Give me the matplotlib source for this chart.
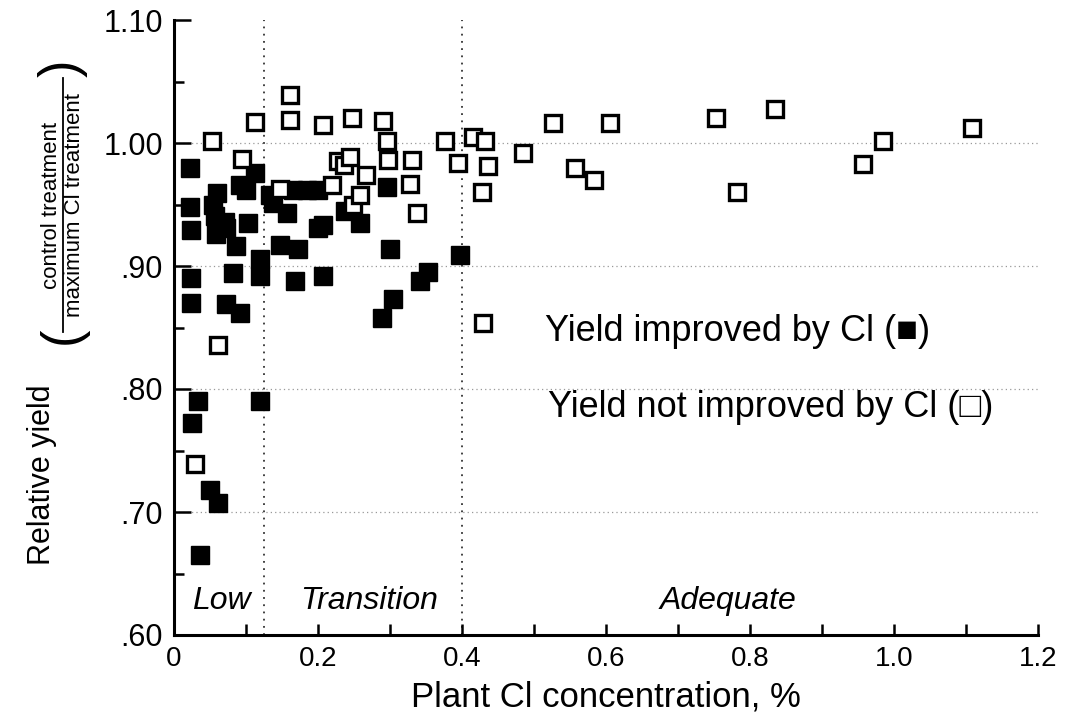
import matplotlib
matplotlib.use('Agg')
import matplotlib.pyplot as plt
from matplotlib.lines import Line2D
from matplotlib.ticker import MultipleLocator, FixedLocator, FixedFormatter

# yield improved by Cl (filled squares)
improved_x = [0.022, 0.022, 0.024, 0.024, 0.024, 0.025, 0.034, 0.036, 0.050, 0.061,
              0.054, 0.057, 0.060, 0.071, 0.058, 0.072, 0.086, 0.082, 0.072, 0.092,
              0.092, 0.100, 0.103, 0.113, 0.119, 0.119, 0.120,
              0.133, 0.137, 0.157, 0.147, 0.168, 0.172, 0.165, 0.185, 0.200, 0.200,
              0.207, 0.207, 0.238, 0.258, 0.296, 0.300, 0.304, 0.289, 0.342, 0.353, 0.397]
improved_y = [0.980, 0.948, 0.929, 0.890, 0.870, 0.772, 0.790, 0.665, 0.718, 0.707,
              0.950, 0.941, 0.959, 0.936, 0.926, 0.931, 0.916, 0.894, 0.869, 0.862,
              0.966, 0.962, 0.935, 0.976, 0.906, 0.892, 0.790,
              0.958, 0.951, 0.943, 0.917, 0.888, 0.914, 0.962, 0.962, 0.962, 0.931,
              0.933, 0.892, 0.945, 0.935, 0.964, 0.914, 0.873, 0.858, 0.888, 0.895, 0.909]

# yield not improved by Cl (open squares)
not_improved_x = [0.029, 0.061, 0.053, 0.094, 0.112, 0.147, 0.161, 0.161, 0.207, 0.219,
                  0.228, 0.236, 0.244, 0.247, 0.249, 0.258, 0.267, 0.290, 0.296, 0.297,
                  0.330, 0.328, 0.338, 0.376, 0.394, 0.415, 0.432, 0.428, 0.436, 0.429,
                  0.485, 0.526, 0.557, 0.583, 0.606, 0.753, 0.782, 0.835, 0.957, 0.985, 1.108]
not_improved_y = [0.739, 0.836, 1.002, 0.987, 1.017, 0.963, 1.039, 1.019, 1.015, 0.966,
                  0.985, 0.982, 0.989, 1.020, 0.950, 0.958, 0.974, 1.018, 1.002, 0.986,
                  0.986, 0.967, 0.943, 1.002, 0.984, 1.005, 1.002, 0.960, 0.981, 0.854,
                  0.992, 1.016, 0.980, 0.970, 1.016, 1.020, 0.960, 1.028, 0.983, 1.002, 1.012]

x_ticks = [0, 0.2, 0.4, 0.6, 0.8, 1.0, 1.2]
x_labels = ['0', '0.2', '0.4', '0.6', '0.8', '1.0', '1.2']
y_ticks = [0.6, 0.7, 0.8, 0.9, 1.0, 1.1]
y_labels = ['.60', '.70', '.80', '.90', '1.00', '1.10']
zone_edges = [0.125, 0.4]
zone_names = ['Low', 'Transition', 'Adequate']
zone_label_x = [0.025, 0.175, 0.675]

W, H = 1066, 717
SANS = ['Liberation Sans', 'DejaVu Sans']


def fx(px):
    return px / W


def fy(py):
    return 1 - py / H


fig = plt.figure(figsize=(W / 100, H / 100), dpi=100)
ax = fig.add_axes([fx(174), fy(635), fx(1038) - fx(174), fy(20) - fy(635)])

for gy in [0.7, 0.8, 0.9, 1.0]:
    ax.axhline(gy, color='#999999', lw=0.9, ls=(0, (1, 2.5)), zorder=1)
for ex in zone_edges:
    ax.axvline(ex, color='#333333', lw=1.3, ls=(0, (1, 3)), zorder=1)

ax.plot(improved_x, improved_y, ls='none', marker='s', ms=12.5,
        mfc='black', mec='black', mew=1, zorder=3)
ax.plot(not_improved_x, not_improved_y, ls='none', marker='s', ms=11,
        mfc='white', mec='black', mew=2.4, zorder=4)

ax.set_xlim(0, 1.2)
ax.set_ylim(0.6, 1.1)
for s in ['top', 'right']:
    ax.spines[s].set_visible(False)
for s in ['left', 'bottom']:
    ax.spines[s].set_linewidth(2.2)

ax.xaxis.set_major_locator(FixedLocator(x_ticks))
ax.xaxis.set_major_formatter(FixedFormatter(x_labels))
ax.xaxis.set_minor_locator(MultipleLocator(0.1))
ax.yaxis.set_major_locator(FixedLocator(y_ticks))
ax.yaxis.set_major_formatter(FixedFormatter(y_labels))
ax.yaxis.set_minor_locator(MultipleLocator(0.05))
ax.tick_params(axis='both', which='both', direction='in', width=1.8)
ax.tick_params(axis='y', which='major', length=12, pad=8)
ax.tick_params(axis='y', which='minor', length=7)
ax.tick_params(axis='x', which='major', length=8, pad=8)
ax.tick_params(axis='x', which='minor', length=8)
for lab in ax.get_yticklabels():
    lab.set_family(SANS)
    lab.set_fontsize(22)
for lab in ax.get_xticklabels():
    lab.set_family(SANS)
    lab.set_fontsize(20)

ax.set_xlabel('Plant Cl concentration, %', family=SANS, fontsize=25, labelpad=6)

for name, lx in zip(zone_names, zone_label_x):
    ax.text(lx, 0.628, name, family=SANS, style='italic', fontsize=23,
            ha='left', va='center')

ax.text(0.515, 0.847, 'Yield improved by Cl (\u25a0)', family=SANS, fontsize=26,
        ha='left', va='center')
ax.text(0.519, 0.785, 'Yield not improved by Cl (\u25a1)', family=SANS, fontsize=26,
        ha='left', va='center')

# y label: Relative yield (control treatment / maximum Cl treatment)
fig.text(fx(42), fy(475), 'Relative yield', family=SANS, fontsize=22,
         rotation=90, ha='center', va='center')
fig.text(fx(52), fy(205), 'control treatment', family=SANS, fontsize=16,
         rotation=90, ha='center', va='center')
fig.text(fx(75), fy(205), 'maximum Cl treatment', family=SANS, fontsize=16,
         rotation=90, ha='center', va='center')
fig.add_artist(Line2D([fx(63), fx(63)], [fy(332), fy(78)], color='black', lw=1.3))
fig.text(fx(63), fy(335), '(', family=SANS, fontsize=38, rotation=90,
         ha='center', va='center')
fig.text(fx(63), fy(68), ')', family=SANS, fontsize=38, rotation=90,
         ha='center', va='center')

fig.savefig('out.png', dpi=100)
